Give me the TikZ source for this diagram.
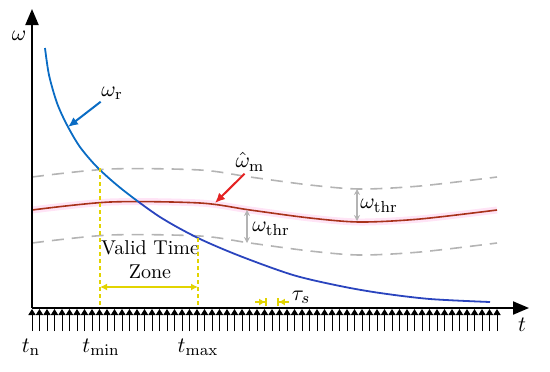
\documentclass[tikz,border=0pt]{standalone}
\usepackage{tikz}
\usepackage{amsmath}
\usetikzlibrary{arrows.meta}
\definecolor{AzulR}{HTML}{0A6CC4}
\definecolor{AzulOsc}{HTML}{2A44BE}
\definecolor{RojoM}{HTML}{A8321A}
\definecolor{RojoF}{HTML}{E42323}
\definecolor{RosaHalo}{HTML}{FFE4F6}
\definecolor{GrisUmbral}{HTML}{B4B4B4}
\definecolor{Amarillo}{HTML}{E2D400}
\tikzset{
  eje/.style     = {line width=1pt, -{Triangle[length=8pt,width=6.5pt]}},
  pulso/.style   = {line width=0.5pt, -{Triangle[length=3pt,width=3.6pt]}},
  umbral/.style  = {draw=GrisUmbral, line width=0.8pt, dash pattern=on 6pt off 4pt},
  curvar/.style  = {draw=AzulR, line width=0.9pt},
  curvam/.style  = {draw=RojoM, line width=0.8pt},
  halo/.style    = {draw=RosaHalo, line width=3.5pt},
  flechar/.style = {-{Latex[length=5pt,width=4.5pt]}, draw=AzulR, line width=1pt},
  flecham/.style = {-{Latex[length=5pt,width=4.5pt]}, draw=RojoF, line width=1pt},
  cota/.style    = {{Stealth[length=3pt,width=3pt]}-{Stealth[length=3pt,width=3pt]},
                    draw=GrisUmbral, line width=0.7pt},
  zona/.style    = {draw=Amarillo, line width=0.6pt, dash pattern=on 2pt off 1.5pt},
  zonaf/.style   = {{Latex[length=3.5pt,width=3.5pt]}-{Latex[length=3.5pt,width=3.5pt]},
                    draw=Amarillo, line width=0.9pt},
  tau/.style     = {-{Latex[length=3pt,width=3.5pt]Bar[width=4pt]}, draw=Amarillo,
                    line width=0.9pt},
  lbl/.style     = {inner sep=1pt, font=\fontsize{11}{13}\selectfont},
}

\begin{document}
\begin{tikzpicture}[x=0.5pt,y=-0.5pt]
  \useasboundingbox (0,0) rectangle (550,371);
  \coordinate (o)  at (32,308);
  \coordinate (xe) at (529,308);
  \coordinate (ye) at (32,9);

  \foreach \k in {0,...,62}
    \draw[pulso] (32+7.5*\k,331) -- (32+7.5*\k,309);

  \foreach \d in {-33,33}
    \draw[umbral, shift={(0,\d)}] plot[smooth] coordinates
      {(32,210) (110,202) (200,203) (250,210) (310,218) (360,222) (420,219) (497,210)};
  \draw[halo] plot[smooth] coordinates
      {(32,210) (110,202) (200,203) (250,210) (310,218) (360,222) (420,219) (497,210)};
  \draw[curvam] plot[smooth] coordinates
      {(32,210) (110,202) (200,203) (250,210) (310,218) (360,222) (420,219) (497,210)};
  \foreach \xa/\xb/\col in {0/138/AzulR, 138/550/AzulOsc} {
    \begin{scope}
      \clip (\xa,0) rectangle (\xb,371);
      \draw[curvar, draw=\col] plot[smooth] coordinates
        {(45,48) (49,75) (57,103) (67,125) (80,147) (98,168) (123,190) (160,217)
         (198,238) (240,256) (293,275) (340,286) (380,293) (430,299) (490,302)};
    \end{scope}
  }

  \draw[eje] (o) -- (xe);
  \draw[eje] (o) -- (ye);

  \node[lbl] (lw) at (19,36)  {$\omega$};
  \node[lbl] (lt) at (522,325) {$t$};
  \node[lbl] (lr) at (112,93) {$\omega_{\mathrm{r}}$};
  \node[lbl] (lm) at (250,162) {$\hat{\omega}_{\mathrm{m}}$};
  \node[lbl] (lu1) at (379,206) {$\omega_{\mathrm{thr}}$};
  \node[lbl] (lu2) at (271,229) {$\omega_{\mathrm{thr}}$};
  \node[inner sep=1pt, align=center] (lv) at (150,260) {Valid Time\\Zone};
  \node[lbl] (ltn) at (31,347)  {$t_{\mathrm{n}}$};
  \node[lbl] (ltmin) at (101,347) {$t_{\mathrm{min}}$};
  \node[lbl] (ltmax) at (198,347) {$t_{\mathrm{max}}$};
  \node[lbl] (lts) at (301,297) {$\tau_s$};

  \coordinate (pr) at (68,127);
  \coordinate (pm) at (215,203);
  \draw[flechar] (lr) -- (pr);
  \draw[flecham] (lm.245) -- (pm);

  \coordinate (u1a) at (357,189);
  \coordinate (u1b) at (357,221);
  \coordinate (u2a) at (247,210);
  \coordinate (u2b) at (247,243);
  \draw[cota] (u1a) -- (u1b);
  \draw[cota] (u2a) -- (u2b);

  \coordinate (za) at (100,168);
  \coordinate (zb) at (198,238);
  \draw[zona] (za) -- (za |- o);
  \draw[zona] (zb) -- (zb |- o);
  \draw[zonaf] (za |- 0,287) -- (zb |- 0,287);

  \coordinate (ta) at (255,302);
  \coordinate (tb) at (289,302);
  \draw[tau] (ta) -- (267,302);
  \draw[tau] (tb) -- (277,302);
\end{tikzpicture}
\end{document}
